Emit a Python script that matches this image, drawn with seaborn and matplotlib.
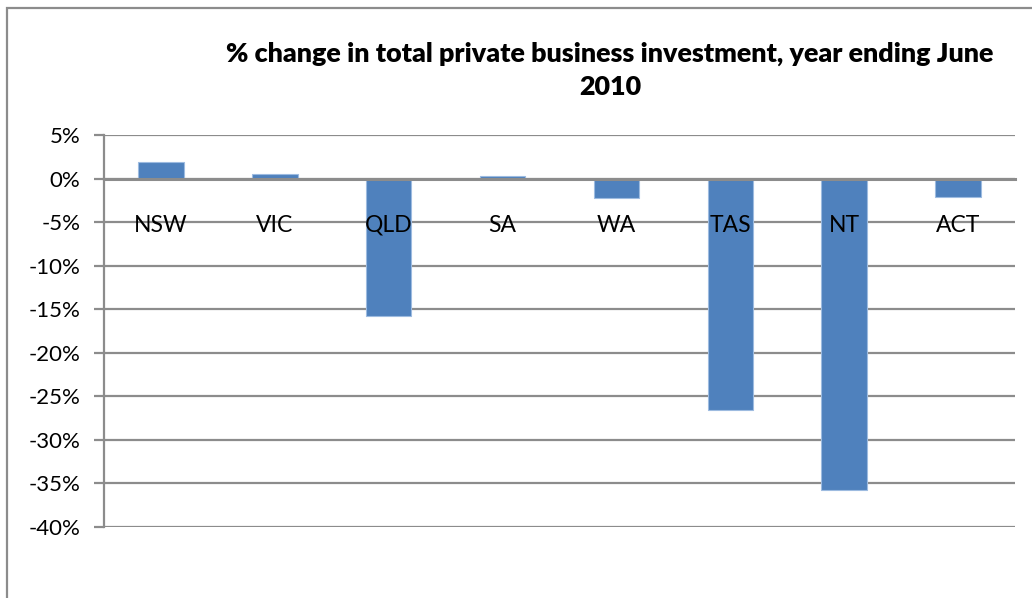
import matplotlib
matplotlib.use("Agg")
import matplotlib.pyplot as plt
from matplotlib.patches import Rectangle
import seaborn as sns
import pandas as pd

# Year-ending June 2010 change in private business investment, by state/territory
states = ["NSW", "VIC", "QLD", "SA", "WA", "TAS", "NT", "ACT"]
pct_change = [1.9, 0.5, -15.8, 0.3, -2.2, -26.6, -35.7, -2.1]

y_ticks = [5, 0, -5, -10, -15, -20, -25, -30, -35, -40]
y_tick_labels = ["5%", "0%", "-5%", "-10%", "-15%", "-20%", "-25%", "-30%", "-35%", "-40%"]
title = "% change in total private business investment, year ending June\n2010"

sns.set_theme(style="white")
plt.rcParams["font.family"] = ["Lato", "DejaVu Sans"]
plt.rcParams["text.color"] = "black"

df = pd.DataFrame({"state": states, "change": pct_change})

fig = plt.figure(figsize=(10.32, 5.98), dpi=100)
ax = fig.add_axes([104 / 1032, 1 - 527 / 598, (1015 - 104) / 1032, (527 - 135) / 598])

grid_col = "#8c8c8c"
bar_col = "#4f81bd"

sns.barplot(data=df, x="state", y="change", color=bar_col, saturation=1,
            width=0.4, edgecolor="#9dbbe0", linewidth=0.8, ax=ax, zorder=3)

ax.set_ylim(-40, 5)
ax.set_xlim(-0.5, len(states) - 0.5)
ax.set_yticks(y_ticks)
ax.set_yticklabels(y_tick_labels, fontsize=16, color="black")
ax.yaxis.grid(True, color=grid_col, linewidth=1.6, zorder=0)
ax.set_axisbelow(True)

# category axis sits on the zero line, labels dropped below it and drawn over the bars
for side in ("top", "right"):
    ax.spines[side].set_visible(False)
ax.spines["bottom"].set_position(("data", 0))
ax.spines["bottom"].set_color(grid_col)
ax.spines["bottom"].set_linewidth(2.2)
ax.spines["bottom"].set_zorder(4)
ax.spines["left"].set_color(grid_col)
ax.spines["left"].set_linewidth(1.6)

ax.set_xticks(range(len(states)))
ax.set_xticklabels(states, fontsize=16.5, color="black")
ax.set_xticks([i + 0.5 for i in range(-1, len(states))], minor=True)
ax.tick_params(axis="x", which="major", length=0, pad=26)
ax.tick_params(axis="x", which="minor", length=6, width=1.6, color=grid_col, direction="out")
ax.tick_params(axis="y", which="major", length=7, width=1.6, color=grid_col,
               direction="out", left=True, pad=10)
ax.xaxis.set_zorder(5)
ax.set_xlabel("")
ax.set_ylabel("")

fig.text(610 / 1032, 1 - 70 / 598, title, ha="center", va="center",
         fontsize=19.4, fontweight="heavy", linespacing=1.45, color="black")

# chart-area border
fig.add_artist(Rectangle((7 / 1032, -0.1), 1.2, 1 - 8 / 598 + 0.1,
                         transform=fig.transFigure, fill=False,
                         edgecolor="#8c8c8c", linewidth=1.6))

fig.savefig("out.png", dpi=100)
